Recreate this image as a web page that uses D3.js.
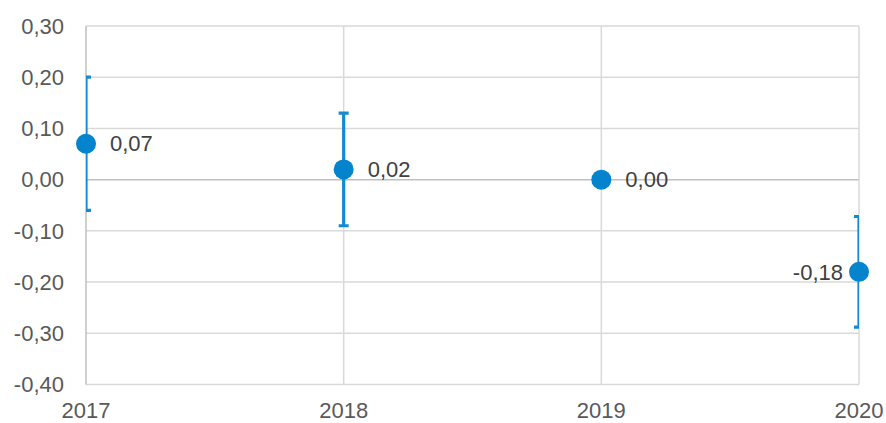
<!DOCTYPE html>
<html>
<head>
<meta charset="utf-8">
<script src="https://cdn.jsdelivr.net/npm/d3@7"></script>
<style>
  body { margin: 0; background: #fff; }
  svg { display: block; font-family: "Liberation Sans", Arial, sans-serif; }
</style>
</head>
<body>
<svg width="886" height="423"></svg>
<script>
const years = ["2017", "2018", "2019", "2020"];
const values = [0.07, 0.02, 0.00, -0.18];
const errUp = [0.13, 0.11, 0, 0.108];
const errDown = [0.13, 0.11, 0, 0.108];
const yTicks = [0.3, 0.2, 0.1, 0, -0.1, -0.2, -0.3, -0.4];

const svg = d3.select("svg");
const margin = {left: 86, right: 27, top: 26, bottom: 38.5};
const W = 886, H = 423;
const fontSize = 22;

const x = d3.scalePoint().domain(years).range([margin.left, W - margin.right]);
const y = d3.scaleLinear().domain([-0.4, 0.3]).range([H - margin.bottom, margin.top]);

const fmt = v => d3.format(".2f")(v).replace(".", ",").replace("−", "-");

svg.append("defs").append("clipPath").attr("id", "plot")
    .append("rect")
    .attr("x", margin.left).attr("y", margin.top - 2)
    .attr("width", W - margin.right - margin.left).attr("height", H - margin.bottom - margin.top + 4);

// horizontal gridlines
svg.append("g").selectAll("line").data(yTicks).join("line")
    .attr("x1", margin.left).attr("x2", W - margin.right)
    .attr("y1", d => y(d)).attr("y2", d => y(d))
    .attr("stroke", d => d === 0 ? "#bfbfbf" : "#d9d9d9")
    .attr("stroke-width", 1.5);

// vertical gridlines
svg.append("g").selectAll("line").data(years).join("line")
    .attr("x1", d => x(d)).attr("x2", d => x(d))
    .attr("y1", margin.top).attr("y2", H - margin.bottom)
    .attr("stroke", (d, i) => i === 0 ? "#bfbfbf" : "#d9d9d9")
    .attr("stroke-width", 1.5);

// y tick labels
svg.append("g").selectAll("text").data(yTicks).join("text")
    .attr("x", 64).attr("y", d => y(d))
    .attr("dy", "0.35em")
    .attr("text-anchor", "end")
    .attr("font-size", fontSize)
    .attr("fill", "#595959")
    .text(d => fmt(d));

// x labels
svg.append("g").selectAll("text").data(years).join("text")
    .attr("x", d => x(d)).attr("y", 418)
    .attr("text-anchor", "middle")
    .attr("font-size", fontSize)
    .attr("fill", "#595959")
    .text(d => d);

// error bars
const data = years.map((yr, i) => ({yr, v: values[i], up: errUp[i], down: errDown[i]}));
const eb = svg.append("g").attr("clip-path", "url(#plot)")
    .attr("stroke", "#148ad6").attr("stroke-width", 3.2)
    .selectAll("g").data(data.filter(d => d.up > 0)).join("g");
eb.append("line")
    .attr("x1", d => x(d.yr)).attr("x2", d => x(d.yr))
    .attr("y1", d => y(d.v + d.up)).attr("y2", d => y(d.v - d.down));
eb.append("line")
    .attr("x1", d => x(d.yr) - 5).attr("x2", d => x(d.yr) + 5)
    .attr("y1", d => y(d.v + d.up)).attr("y2", d => y(d.v + d.up));
eb.append("line")
    .attr("x1", d => x(d.yr) - 5).attr("x2", d => x(d.yr) + 5)
    .attr("y1", d => y(d.v - d.down)).attr("y2", d => y(d.v - d.down));

// markers
svg.append("g").selectAll("circle").data(data).join("circle")
    .attr("cx", d => x(d.yr)).attr("cy", d => y(d.v))
    .attr("r", 10)
    .attr("fill", "#0584ce");

// value labels
svg.append("g").selectAll("text").data(data).join("text")
    .attr("x", (d, i) => i === years.length - 1 ? x(d.yr) - 16 : x(d.yr) + 24)
    .attr("y", d => y(d.v))
    .attr("dy", "0.35em")
    .attr("text-anchor", (d, i) => i === years.length - 1 ? "end" : "start")
    .attr("font-size", fontSize)
    .attr("fill", "#404040")
    .text(d => fmt(d.v));
</script>
</body>
</html>
